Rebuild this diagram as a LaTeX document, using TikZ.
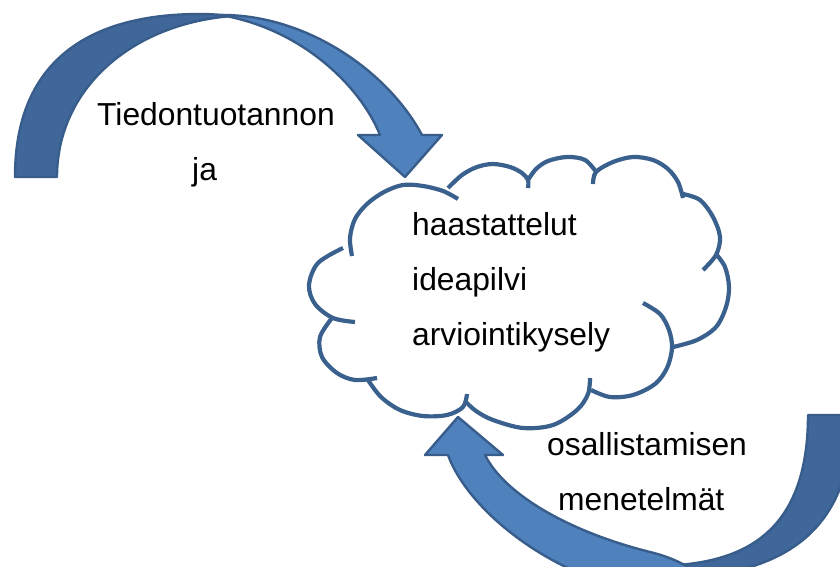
\documentclass[tikz,border=0pt]{standalone}
\usepackage{fontspec}
\setmainfont{Liberation Sans}
\definecolor{arrowlight}{RGB}{79,129,189}
\definecolor{arrowdark}{RGB}{64,103,154}
\definecolor{arrowline}{RGB}{56,93,138}
\definecolor{cloudline}{RGB}{58,96,141}
\begin{document}
\begin{tikzpicture}[x=1pt,y=-1pt,
  backband/.style={fill=arrowdark,draw=arrowline,line width=2.4pt,line join=round},
  frontband/.style={fill=arrowlight,draw=arrowline,line width=2.4pt,line join=round},
  lobe/.style={draw=cloudline,line width=4.2pt},
  lbl/.style={anchor=base west,inner sep=0pt,font=\fontsize{31.8pt}{38pt}\selectfont}]
\useasboundingbox (0,0) rectangle (840,567);
\clip (0,0) rectangle (840,567);

% top curved arrow: back part (tail) then front part (head)
\filldraw[backband] (15,177) .. controls (15,60) and (90,14) .. (200,14)
  .. controls (212,14) and (222,15) .. (232,16)
  .. controls (130,24) and (57,90) .. (57,177) -- cycle;
\filldraw[frontband] (220,15) .. controls (305,14) and (387,70) .. (422,135)
  -- (442,135) -- (405,177) -- (358,135) -- (380,135)
  .. controls (360,85) and (300,28) .. (220,15) -- cycle;

% bottom curved arrow: back part (tail) then front part (head)
\filldraw[backband] (852,415) .. controls (852,535) and (780,579) .. (655,579)
  -- (600,576) -- (605,563) .. controls (625,565) and (640,566) .. (650,566)
  .. controls (730,566) and (808,545) .. (808,415) -- cycle;
\filldraw[frontband] (715,592) -- (640,590) .. controls (560,580) and (470,515) .. (448,455)
  -- (425,455) -- (458,417) -- (503,455) -- (485,455)
  .. controls (505,495) and (570,532) .. (650,552)
  .. controls (675,558) and (700,570) .. (715,592) -- cycle;

% cloud
\fill[white] (343,248) -- (352,230) -- (367,204) -- (403,185) -- (448,188) -- (493,164)
  -- (528,180) -- (567,157) -- (597,173) -- (633,157) -- (683,194) -- (720,237)
  -- (716,254) -- (729,287) -- (673,347) -- (655,384) -- (610,397) -- (590,388)
  -- (553,425) -- (523,428) -- (466,402) -- (423,416) -- (368,380) -- (337,373)
  -- (320,337) -- (332,318) -- (309,285) -- cycle;
\draw[lobe] plot[smooth,tension=0.55] coordinates {(352,256) (350,238) (355,219) (367,204) (384,192) (403,185) (423,186) (443,191) (458,199)};
\draw[lobe] plot[smooth,tension=0.55] coordinates {(448,188) (462,175) (477,167) (493,164) (510,167) (522,173) (528,180) (528,188)};
\draw[lobe] plot[smooth,tension=0.55] coordinates {(528,180) (536,169) (548,161) (567,157) (585,160) (597,173)};
\draw[lobe] plot[smooth,tension=0.55] coordinates {(593,184) (596,172) (613,162) (633,157) (653,160) (668,169) (678,182) (683,198)};
\draw[lobe] plot[smooth,tension=0.55] coordinates {(683,194) (700,200) (713,217) (720,237) (716,255) (703,270)};
\draw[lobe] plot[smooth,tension=0.55] coordinates {(716,254) (725,267) (729,287) (726,307) (716,327) (697,340) (673,347)};
\draw[lobe] plot[smooth,tension=0.55] coordinates {(643,303) (660,314) (669,330) (672,348) (667,368) (655,384) (633,395) (610,397) (591,390)};
\draw[lobe] plot[smooth,tension=0.55] coordinates {(590,378) (588,394) (577,410) (553,425) (523,428) (493,420) (476,411) (466,402)};
\draw[lobe] plot[smooth,tension=0.55] coordinates {(467,394) (463,407) (447,415) (423,416) (400,410) (381,397) (368,380)};
\draw[lobe] plot[smooth,tension=0.55] coordinates {(377,378) (355,380) (337,373) (322,357) (320,337) (332,318)};
\draw[lobe] plot[smooth,tension=0.55] coordinates {(355,322) (333,318) (315,304) (309,285) (318,263) (343,248)};

% texts
\node[lbl] (t1) at (97,125) {Tiedontuotannon};
\node[lbl] (t2) at (192,180) {ja};
\node[lbl] (c1) at (412,235) {haastattelut};
\node[lbl] (c2) at (412,290) {ideapilvi};
\node[lbl] (c3) at (412,345) {arviointikysely};
\node[lbl] (b1) at (547,455) {osallistamisen};
\node[lbl] (b2) at (558,510) {menetelmät};
\end{tikzpicture}
\end{document}
